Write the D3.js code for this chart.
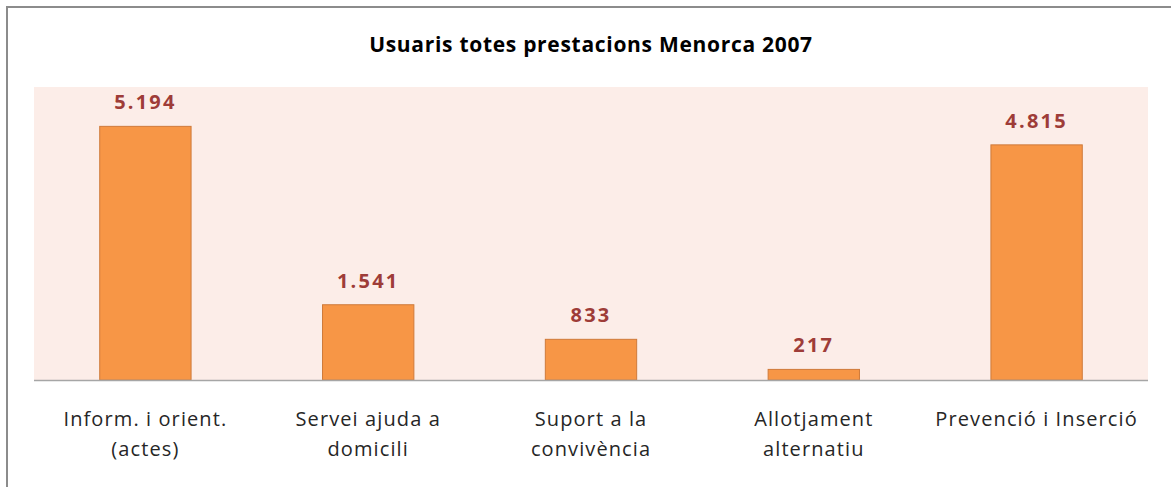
<!DOCTYPE html>
<html><head><meta charset="utf-8">
<script src="https://cdn.jsdelivr.net/npm/d3@7"></script>
<style>body{margin:0;background:#fff;} svg{display:block;}</style>
</head><body>
<script>
const categories = [["Inform. i orient.", "(actes)"], ["Servei ajuda a", "domicili"], ["Suport a la", "convivència"], ["Allotjament", "alternatiu"], ["Prevenció i Inserció"]];
const values = [5194, 1541, 833, 217, 4815];
const title = "Usuaris totes prestacions Menorca 2007";
const yMax = 6000;

const W = 1171, H = 487;
const plot = {left: 34, right: 1148, top: 87, bottom: 380};
const svg = d3.select("body").append("svg").attr("width", W).attr("height", H);
const font = "'Open Sans', sans-serif";

svg.append("path").attr("d", `M7,${H} L7,7 L${W},7`).attr("fill","none").attr("stroke","#8c8c8c").attr("stroke-width",2);

svg.append("rect").attr("x", plot.left).attr("y", plot.top)
  .attr("width", plot.right-plot.left).attr("height", plot.bottom-plot.top).attr("fill", "#fcede8");

const x = d3.scaleBand().domain(d3.range(values.length)).range([plot.left, plot.right]).padding(0);
const y = d3.scaleLinear().domain([0, yMax]).range([plot.bottom, plot.top]);
const bw = x.bandwidth()*0.41;
const loc = d3.formatLocale({decimal:",", thousands:".", grouping:[3], currency:["","€"]});
const fmt = loc.format(",d");

svg.selectAll("rect.bar").data(values).enter().append("rect").attr("class","bar")
  .attr("x", (d,i)=> x(i)+x.bandwidth()/2-bw/2).attr("y", d=>y(d))
  .attr("width", bw).attr("height", d=>y(0)-y(d))
  .attr("fill","#f79646").attr("stroke","#cf7a3a").attr("stroke-width",1);

svg.selectAll("text.val").data(values).enter().append("text").attr("class","val")
  .attr("x", (d,i)=> x(i)+x.bandwidth()/2).attr("y", d=>y(d)-17)
  .attr("text-anchor","middle").attr("font-family",font).attr("font-weight","bold")
  .attr("font-size",20).attr("fill","#9e3c38").attr("letter-spacing","2.2px").text(d=>fmt(d));

svg.append("line").attr("x1",plot.left).attr("x2",plot.right).attr("y1",y(0)+0.5).attr("y2",y(0)+0.5)
  .attr("stroke","#a6a6a6").attr("stroke-width",1.5);

categories.forEach((lines,i)=>{
  const t = svg.append("text").attr("x", x(i)+x.bandwidth()/2).attr("y", 426)
    .attr("text-anchor","middle").attr("font-family",font).attr("font-size",20)
    .attr("letter-spacing","1.1px").attr("fill","#262626");
  lines.forEach((l,j)=> t.append("tspan").attr("x", x(i)+x.bandwidth()/2).attr("dy", j? 30:0).text(l));
});

svg.append("text").attr("x", 591).attr("y", 52).attr("text-anchor","middle")
  .attr("font-family",font).attr("font-weight","bold").attr("font-size",21)
  .attr("letter-spacing","0.7px").attr("fill","#000").text(title);
</script>
</body></html>
